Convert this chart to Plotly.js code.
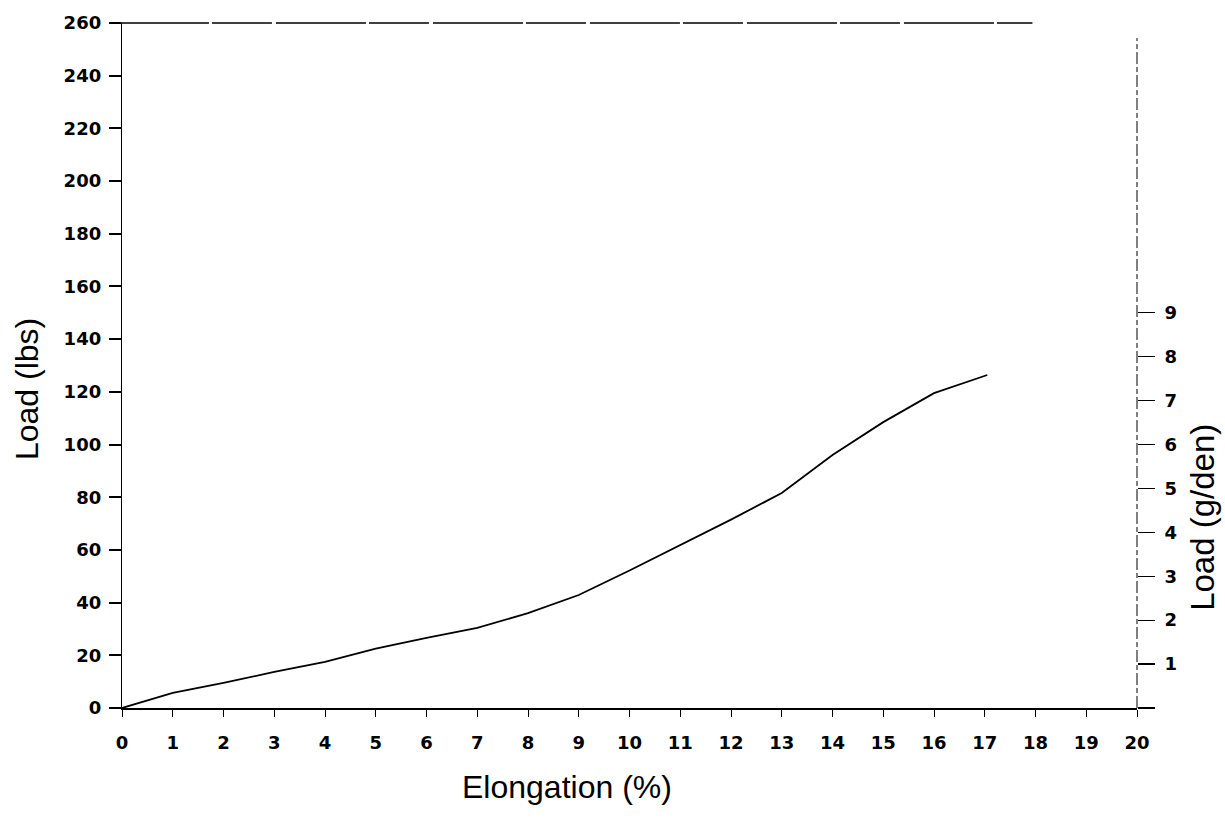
<!DOCTYPE html>
<html>
<head>
<meta charset="utf-8">
<script src="https://cdn.plot.ly/plotly-3.0.1.min.js"></script>
<style>html,body{margin:0;padding:0;background:#fff;}#chart{width:1225px;height:823px;}</style>
</head>
<body>
<div id="chart"></div>
<script>
// Data
var elongation = [0, 1, 2, 3, 4, 5, 6, 7, 8, 9, 10, 11, 12, 13, 14, 15, 16, 17.05];
var loadLbs = [0, 5.7, 9.5, 13.7, 17.5, 22.5, 26.6, 30.4, 36, 42.9, 52.2, 61.9, 71.5, 81.6, 96, 108.5, 119.5, 126.4];
var xTicks = [0,1,2,3,4,5,6,7,8,9,10,11,12,13,14,15,16,17,18,19,20];
var yTicks = [0,20,40,60,80,100,120,140,160,180,200,220,240,260];
var y2Ticks = [0,1,2,3,4,5,6,7,8,9];
var y2Labels = ['', '1','2','3','4','5','6','7','8','9'];

var titleFamily = 'Liberation Sans, Arial, sans-serif';
var tickFont = {family: 'DejaVu Sans, sans-serif', color: '#000', size: 18, weight: 'bold'};

var traces = [
  {x: elongation, y: loadLbs, mode: 'lines', type: 'scatter',
   line: {color: '#000', width: 1.8}, hoverinfo: 'skip', showlegend: false},
  {x: [0], y: [0], yaxis: 'y2', mode: 'markers', marker: {opacity: 0},
   hoverinfo: 'skip', showlegend: false}
];

var layout = {
  width: 1225, height: 823,
  margin: {l: 122, r: 88, t: 23, b: 115},
  paper_bgcolor: '#fff', plot_bgcolor: '#fff',
  font: {family: titleFamily, color: '#000'},
  xaxis: {
    range: [0, 20], tickvals: xTicks, ticktext: xTicks.map(String),
    showgrid: false, zeroline: false,
    showline: true, linecolor: '#000', linewidth: 2,
    ticks: 'outside', ticklen: 7, tickwidth: 1, tickcolor: '#000',
    ticklabelstandoff: 10, tickfont: tickFont
  },
  yaxis: {
    range: [0, 260], tickvals: yTicks, ticktext: yTicks.map(String),
    showgrid: false, zeroline: false,
    showline: true, linecolor: '#000', linewidth: 1.2,
    ticks: 'outside', ticklen: 12, tickwidth: 2, tickcolor: '#000',
    ticklabelstandoff: 4, tickfont: tickFont
  },
  yaxis2: {
    overlaying: 'y', side: 'right',
    range: [0, 15.6], tickvals: y2Ticks, ticktext: y2Labels,
    showgrid: false, zeroline: false, showline: false,
    ticks: 'outside', ticklen: 17, tickwidth: 1.2, tickcolor: '#000',
    ticklabelstandoff: 6, tickfont: tickFont
  },
  shapes: [
    {type: 'line', xref: 'paper', yref: 'paper', x0: -0.003, x1: 0.897, y0: 1, y1: 1,
     line: {color: '#000', width: 1.5, dash: '90px,3px,60px,4px'}},
    {type: 'line', xref: 'paper', yref: 'paper', x0: 1, x1: 1, y0: 0, y1: 0.978,
     line: {color: '#000', width: 1, dash: '12px,3px,5px,3px'}}
  ],
  annotations: [
    {text: 'Elongation (%)', xref: 'paper', yref: 'paper', x: 0.438, y: -0.115,
     xanchor: 'center', yanchor: 'middle', showarrow: false,
     font: {family: titleFamily, size: 32, color: '#000'}},
    {text: 'Load (lbs)', xref: 'paper', yref: 'paper', x: -0.093, y: 0.465,
     xanchor: 'center', yanchor: 'middle', textangle: -90, showarrow: false,
     font: {family: titleFamily, size: 32, color: '#000'}},
    {text: 'Load (g/den)', xref: 'paper', yref: 'paper', x: 1.065, y: 0.279,
     xanchor: 'center', yanchor: 'middle', textangle: -90, showarrow: false,
     font: {family: titleFamily, size: 33, color: '#000'}}
  ]
};

Plotly.newPlot('chart', traces, layout, {staticPlot: true, displayModeBar: false});
</script>
</body>
</html>
